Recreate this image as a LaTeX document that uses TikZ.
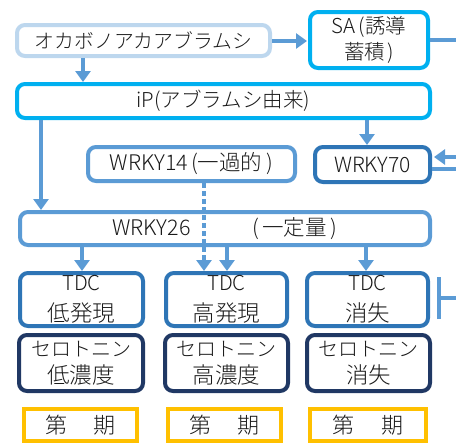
\documentclass[tikz,border=0pt]{standalone}
\usepackage{fontspec}
\setmainfont{Noto Sans CJK JP Light}
\usetikzlibrary{arrows.meta}
\definecolor{lblue}{HTML}{BDD7EE}
\definecolor{cyanb}{HTML}{00B0F0}
\definecolor{mblue}{HTML}{5B9BD5}
\definecolor{dblue}{HTML}{2E75B6}
\definecolor{navyb}{HTML}{203864}
\definecolor{goldb}{HTML}{FFC000}
\definecolor{txt}{HTML}{1A1A1A}
\begin{document}
\begin{tikzpicture}[x=1pt,y=-1pt,
  box/.style={draw, line width=4pt, rounded corners=8pt, fill=white, align=center,
    inner sep=0pt, text=txt, font=\fontsize{20.5}{26}\selectfont},
  pbox/.style={draw=goldb, line width=4.5pt, fill=white, align=center,
    inner sep=0pt, text=txt, font=\fontsize{22}{26}\selectfont,
    minimum height=32pt},
  arr/.style={mblue, line width=4.5pt, -{Triangle[width=15pt,length=11pt]}},
  darr/.style={arr, dash pattern=on 5pt off 3pt},
  inh/.style={mblue, line width=4pt, -{Bar[width=42pt,line width=4pt]}},
  plain/.style={mblue, line width=4pt}]
\useasboundingbox (0,0) rectangle (456,445);
% nodes
\node[box, draw=lblue, minimum width=253pt, minimum height=31pt, font=\fontsize{19.8}{26}\selectfont] (okabo) at (143.5,40.5) {オカボノアカアブラムシ};
\node[box, draw=cyanb, minimum width=118pt, minimum height=56pt] (sa) at (369,40) {SA\kern3pt(誘導\\蓄積\kern2pt)};
\node[box, draw=cyanb, minimum width=413pt, minimum height=34pt] (ip) at (223.5,101) {iP(アブラムシ由来)};
\node[box, draw=mblue, minimum width=207pt, minimum height=34pt, font=\fontsize{21.5}{26}\selectfont] (w14) at (191.5,164) {WRKY14\kern3pt(一過的\kern4pt)};
\node[box, draw=dblue, minimum width=115pt, minimum height=35pt, font=\fontsize{21}{26}\selectfont] (w70) at (372.5,164.5) {WRKY70};
\node[box, draw=mblue, minimum width=410pt, minimum height=33pt, font=\fontsize{21.5}{26}\selectfont] (w26) at (225,228.5) {WRKY26\hspace{62pt}(\kern3pt一定量\kern4pt)};
% TDC boxes
\node[box, draw=dblue, minimum width=123pt, minimum height=53pt, font=\fontsize{20.5}{31}\selectfont] (t1) at (81.5,299.5) {TDC\\{\fontsize{22.5}{31}\selectfont 低発現}};
\node[box, draw=dblue, minimum width=121pt, minimum height=53pt, font=\fontsize{20.5}{31}\selectfont] (t2) at (226.5,299.5) {TDC\\{\fontsize{22.5}{31}\selectfont 高発現}};
\node[box, draw=dblue, minimum width=121pt, minimum height=53pt, font=\fontsize{20.5}{31}\selectfont] (t3) at (367.5,299.5) {TDC\\{\fontsize{22.5}{31}\selectfont 消失}};
% serotonin boxes
\node[box, draw=navyb, minimum width=124pt, minimum height=56pt, font=\fontsize{20}{27}\selectfont] (s1) at (81,363) {セロトニン\\{\fontsize{22.5}{27}\selectfont 低濃度}};
\node[box, draw=navyb, minimum width=123pt, minimum height=56pt, font=\fontsize{20}{27}\selectfont] (s2) at (226.5,363) {セロトニン\\{\fontsize{22.5}{27}\selectfont 高濃度}};
\node[box, draw=navyb, minimum width=123pt, minimum height=56pt, font=\fontsize{20}{27}\selectfont] (s3) at (368.5,363) {セロトニン\\{\fontsize{22.5}{27}\selectfont 消失}};
% period boxes
\node[pbox, minimum width=113pt] (p1) at (80.5,425) {第\hspace{1.2em}期};
\node[pbox, minimum width=113pt] (p2) at (224.5,425) {第\hspace{1.2em}期};
\node[pbox, minimum width=116pt] (p3) at (368,425) {第\hspace{1.2em}期};
% helper coordinates
\coordinate (xa) at (83,0);
\coordinate (xb) at (41,0);
\coordinate (xc) at (367,0);
\coordinate (xd) at (204,0);
\coordinate (xe) at (82,0);
\coordinate (xf) at (227,0);
\coordinate (xg) at (366,0);
\coordinate (ya) at (0,41);
\coordinate (yb) at (0,157);
\coordinate (yc) at (0,169);
\coordinate (rsa) at (456,40);
\coordinate (r70a) at (456,157);
\coordinate (r70b) at (456,169);
\coordinate (rt3) at (456,298);
\coordinate (bar3) at (437,298);
% connectors
\draw[arr] (okabo.east |- ya) -- ([xshift=-1pt]sa.west |- ya);
\draw[arr] (okabo.south -| xa) -- (ip.north -| xa);
\draw[arr] (ip.south -| xb) -- (w26.north -| xb);
\draw[arr] (ip.south -| xc) -- (w70.north -| xc);
\draw[arr] (w26.south -| xe) -- (t1.north -| xe);
\draw[arr] (w26.south -| xf) -- (t2.north -| xf);
\draw[arr] (w26.south -| xg) -- (t3.north -| xg);
\draw[darr] (w14.south -| xd) -- (t2.north -| xd);
\draw[plain] (sa.east) -- (rsa);
\draw[arr] (r70a) -- ([xshift=2pt]w70.east |- yb);
\draw[plain] (w70.east |- yc) -- (r70b);
\draw[inh] (rt3) -- (bar3);
\end{tikzpicture}
\end{document}
